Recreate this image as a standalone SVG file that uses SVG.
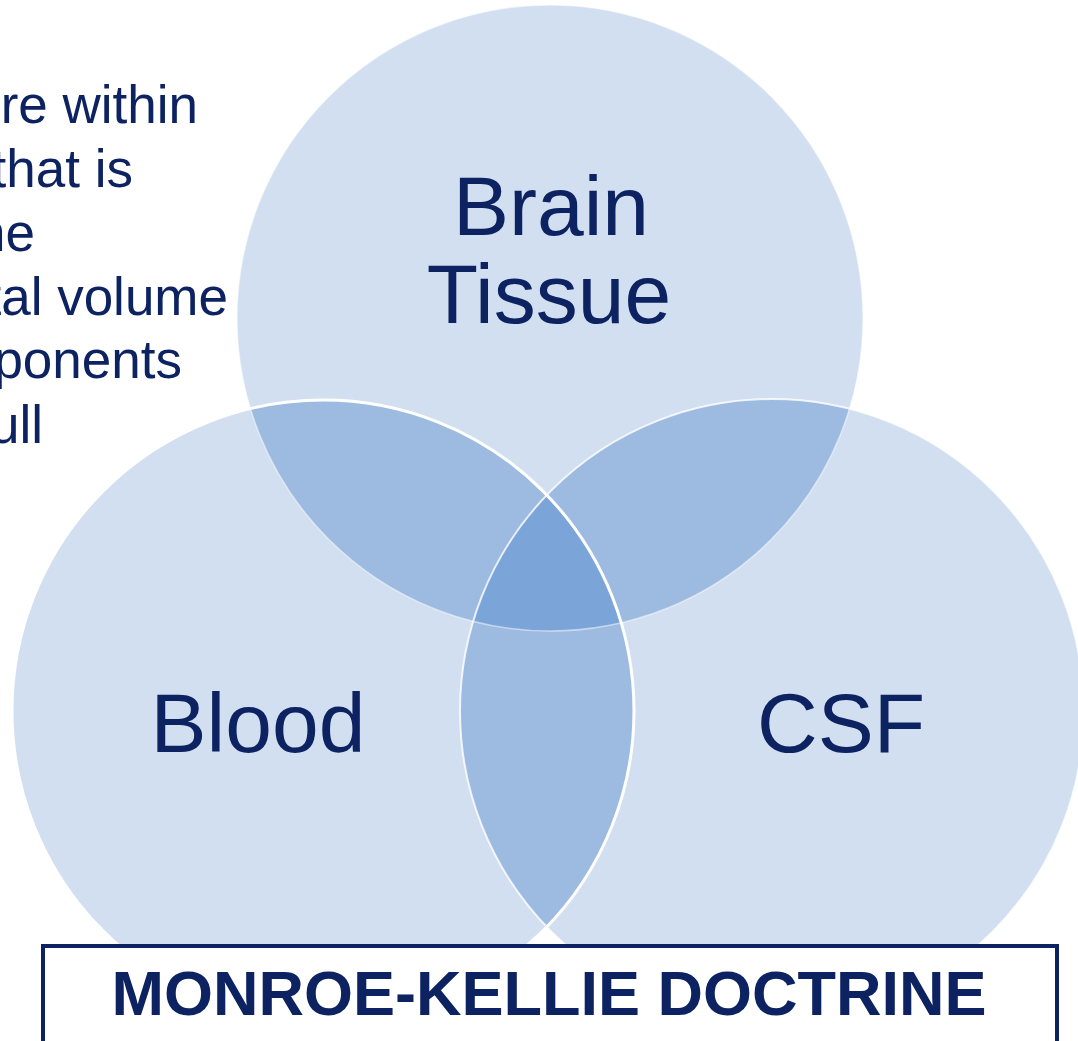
<svg xmlns="http://www.w3.org/2000/svg" width="1078" height="1041" viewBox="0 0 1078 1041">
<style>
.side{font-family:"Liberation Sans",Arial,sans-serif;font-size:53px;fill:#0c2261;text-anchor:end}
.lbl{font-family:"Liberation Sans",Arial,sans-serif;font-size:84px;fill:#0c2261;text-anchor:middle}
.title{font-family:"Liberation Sans",Arial,sans-serif;font-size:63px;font-weight:bold;fill:#0c2261;text-anchor:middle}
.base{fill:#d1dff0}
.ov2{fill:#9dbbe1}
.ov3{fill:#7ba4d8}
.edge{fill:none;stroke:#ffffff}
</style>
<defs>
<clipPath id="cT"><circle cx="550" cy="318" r="313"/></clipPath>
<clipPath id="cL"><circle cx="323" cy="711" r="311"/></clipPath>
<clipPath id="cR"><circle cx="772" cy="711" r="312"/></clipPath>
</defs>
<rect width="1078" height="1041" fill="#ffffff"/>
<g id="side-text">
<text class="side" x="198" y="123">re within</text>
<text class="side" x="133" y="187">that is</text>
<text class="side" x="35" y="251">ne</text>
<text class="side" x="228" y="315">tal volume</text>
<text class="side" x="182" y="378">ponents</text>
<text class="side" x="43" y="443">ull</text>
</g>
<g id="brain-tissue">
<circle class="base" cx="550" cy="318" r="313"/>
</g>
<g id="csf">
<circle class="base" cx="772" cy="711" r="312"/>
</g>
<g id="blood">
<circle class="base" cx="323" cy="711" r="311"/>
</g>
<g id="overlaps">
<g clip-path="url(#cT)"><circle class="ov2" cx="323" cy="711" r="311"/><circle class="ov2" cx="772" cy="711" r="312"/></g>
<g clip-path="url(#cL)"><circle class="ov2" cx="772" cy="711" r="312"/></g>
<g clip-path="url(#cT)"><g clip-path="url(#cL)"><circle class="ov3" cx="772" cy="711" r="312"/></g></g>
</g>
<g id="outlines">
<circle class="edge" cx="550" cy="318" r="313" stroke-width="1.5" stroke-opacity="0.5"/>
<circle class="edge" cx="772" cy="711" r="312" stroke-width="2" stroke-opacity="0.8"/>
<circle class="edge" cx="323" cy="711" r="311" stroke-width="3"/>
</g>
<g id="labels">
<text class="lbl" x="551" y="235">Brain</text>
<text class="lbl" x="549" y="323">Tissue</text>
<text class="lbl" x="258" y="752">Blood</text>
<text class="lbl" x="841" y="752">CSF</text>
</g>
<g id="title-box">
<rect x="43" y="946" width="1014" height="110" fill="#ffffff" stroke="#0c2261" stroke-width="4"/>
<text class="title" x="549" y="1015">MONROE-KELLIE DOCTRINE</text>
</g>
</svg>
